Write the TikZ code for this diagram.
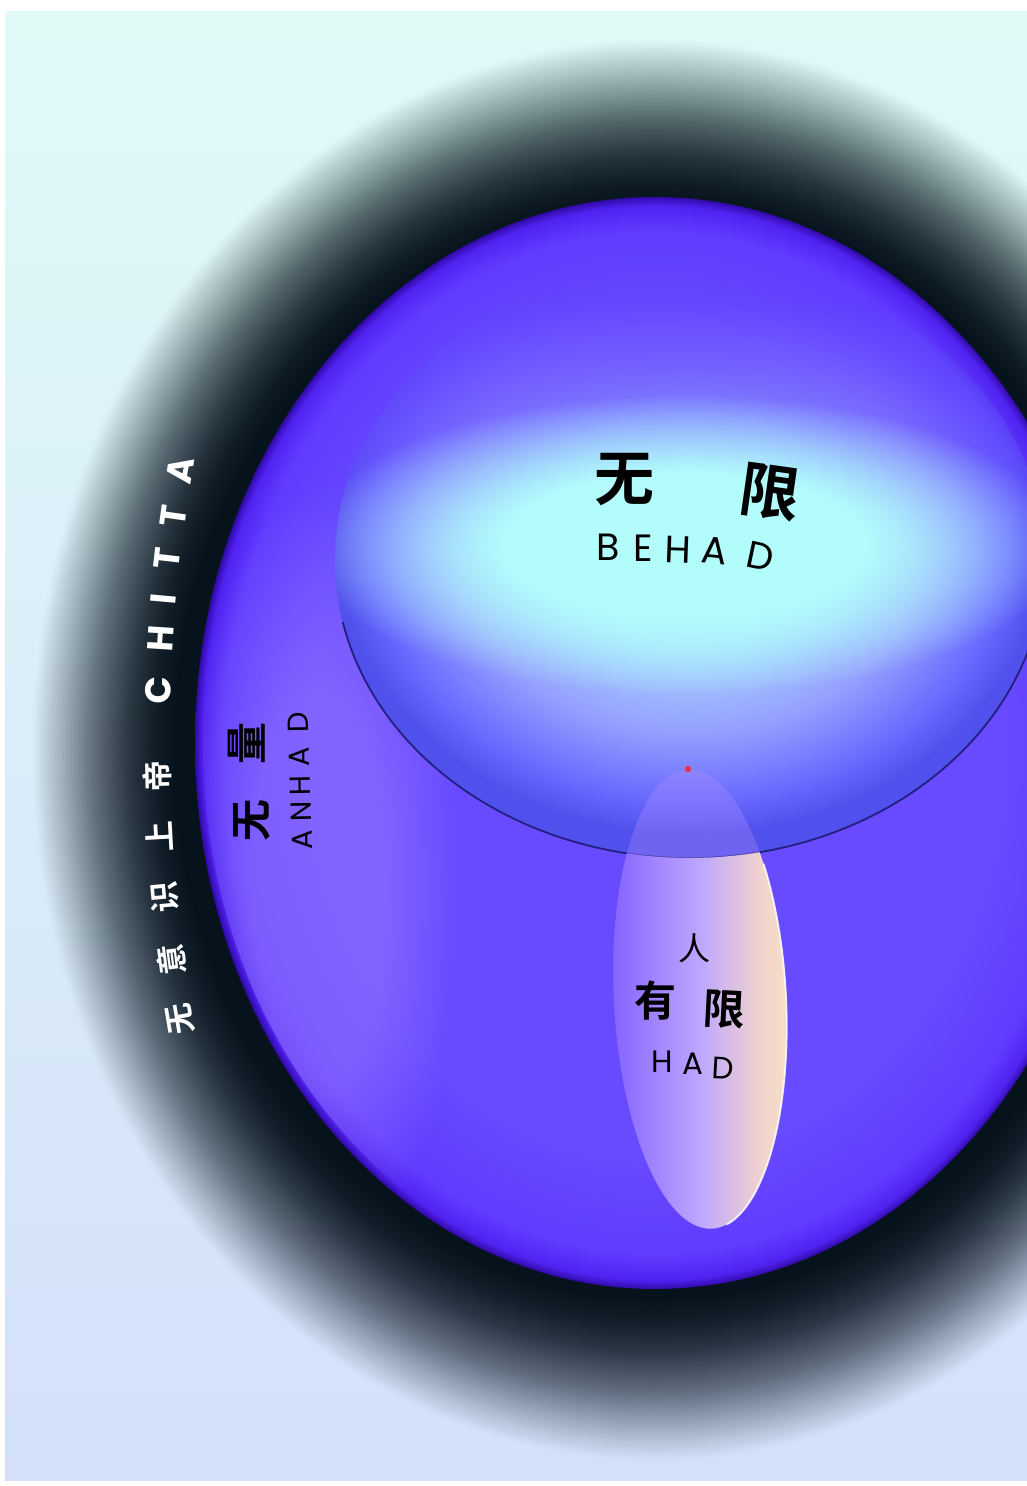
\documentclass[tikz,border=0pt]{standalone}
\usepackage{fontspec}
\newfontfamily\cjk{Noto Sans CJK SC}
\newfontfamily\cjkbold{Noto Sans CJK SC Bold}
\newfontfamily\gothic{Poppins}
\usetikzlibrary{fadings}

% colours
\definecolor{skytop}{RGB}{224,250,248}
\definecolor{skybot}{RGB}{212,224,250}
\definecolor{voidblack}{RGB}{6,18,28}
\definecolor{anhadmid}{RGB}{104,74,255}
\definecolor{anhadrim}{RGB}{96,60,255}
\definecolor{anhaddeep}{RGB}{80,34,240}
\definecolor{anhadedge}{RGB}{50,10,170}
\definecolor{anhadsoft}{RGB}{150,120,255}
\definecolor{behadcore}{RGB}{170,226,255}
\definecolor{behadmid}{RGB}{150,160,255}
\definecolor{behadrim}{RGB}{104,104,255}
\definecolor{behadedge}{RGB}{80,80,236}
\definecolor{behadglow}{RGB}{178,252,252}
\definecolor{behadline}{RGB}{34,30,130}
\definecolor{hadleft}{RGB}{134,102,255}
\definecolor{hadmid}{RGB}{190,166,255}
\definecolor{hadright}{RGB}{240,210,206}
\definecolor{hadcream}{RGB}{250,226,196}
\definecolor{hadveil}{RGB}{170,140,255}
\definecolor{seed}{RGB}{230,48,72}

% shadings (25bp is the rim of the shaded path)
\pgfdeclareradialshading{anhadshade}{\pgfpointorigin}{color(0bp)=(anhadmid); color(19bp)=(anhadmid); color(23.4bp)=(anhadrim); color(24.6bp)=(anhaddeep); color(25bp)=(anhadedge); color(50bp)=(anhadedge)}
\pgfdeclareradialshading{behadshade}{\pgfpoint{0bp}{4bp}}{color(0bp)=(behadcore); color(9bp)=(behadcore); color(17bp)=(behadmid); color(22.5bp)=(behadrim); color(25bp)=(behadedge); color(50bp)=(behadedge)}
\pgfdeclarehorizontalshading{hadshade}{100bp}{color(0bp)=(hadleft); color(27bp)=(hadleft); color(50bp)=(hadmid); color(66bp)=(hadright); color(75bp)=(hadcream); color(100bp)=(hadcream)}

% fadings
\pgfdeclareradialshading{softfadeshade}{\pgfpointorigin}{color(0bp)=(white); color(12bp)=(white); color(25bp)=(black); color(50bp)=(black)}
\pgfdeclarefading{softfade}{\pgfuseshading{softfadeshade}}
\pgfdeclareverticalshading{capfadeshade}{100bp}{color(0bp)=(white); color(45bp)=(white); color(72bp)=(black); color(100bp)=(black)}
\pgfdeclarefading{capfade}{\pgfuseshading{capfadeshade}}

% darkness of the void at depth s (0 outside, 1 at the rim of ANHAD)
\newcommand*{\voiddepth}[2]{\pgfmathsetmacro#1{0.985*(1-(max(0.001,1-(#2+0.0001)^1.2))^1.8)}}

\begin{document}
\begin{tikzpicture}[x=1pt,y=1pt,
  bigcjk/.style={font=\cjkbold\fontsize{60}{60}\selectfont, inner sep=0pt},
  midcjk/.style={font=\cjkbold\fontsize{42}{42}\selectfont, inner sep=0pt},
  smallcjk/.style={font=\cjk\fontsize{32}{32}\selectfont, inner sep=0pt},
  behadletter/.style={font=\gothic\fontsize{38}{38}\selectfont, inner sep=0pt},
  hadletter/.style={font=\gothic\fontsize{31}{31}\selectfont, inner sep=0pt},
  anhadletter/.style={font=\gothic\fontsize{29}{29}\selectfont, inner sep=0pt, rotate=91},
  chittacjk/.style={font=\cjkbold\fontsize{31}{31}\selectfont, text=white, inner sep=0pt},
  chittaletter/.style={font=\gothic\bfseries\fontsize{36}{36}\selectfont, text=white, inner sep=0pt}]
  \useasboundingbox (0,0) rectangle (1027,1486);
  \coordinate (voidctr) at (655,736);
  \coordinate (anhadctr) at (655,743);
  \coordinate (capctr) at (690,926);
  \coordinate (hadctr) at (700,487);

  % paper and sky
  \fill[white] (0,0) rectangle (1027,1486);
  \shade[top color=skytop, bottom color=skybot] (5,5) rectangle (1027,1474);

  \begin{scope}
    \clip (5,5) rectangle (1027,1474);
    % dark void round the whole: thin veils stacked inwards
    \foreach \i in {1,...,80}{
      \voiddepth\opnow{\i/80}
      \voiddepth\opwas{(\i-1)/80}
      \pgfmathsetmacro\veil{1-(1-\opnow)/(1-\opwas)}
      \pgfmathsetmacro\rr{1-0.25*\i/80}
      \fill[voidblack, fill opacity=\veil] (voidctr) ellipse[x radius=625*\rr, y radius=713*\rr];
    }
    % ANHAD
    \shade[shading=anhadshade] (anhadctr) ellipse[x radius=460, y radius=546];
    \begin{scope}
      \clip (anhadctr) ellipse[x radius=452, y radius=538];
      \fill[anhadsoft, opacity=.55, path fading=softfade] (320,600) ellipse[x radius=140, y radius=400];
    \end{scope}

    % BEHAD cap
    \shade[shading=behadshade, path fading=capfade] (capctr) ellipse[x radius=355, y radius=298];
    \begin{scope}
      \clip (capctr) ellipse[x radius=355, y radius=298];
      \fill[behadglow, path fading=softfade] (685,941) ellipse[x radius=380, y radius=150];
    \end{scope}
    \draw[behadline, line width=1.8] (capctr) ++(192:355 and 298) arc[start angle=192, end angle=352, x radius=355, y radius=298];

    % HAD
    \fill[hadveil, opacity=.35, shift={(hadctr)}, rotate=3] (0,0) ellipse[x radius=86, y radius=230];
    \begin{scope}
      \clip (capctr) ++(180:355 and 298) arc[start angle=180, end angle=360, x radius=355, y radius=298] -- (1045,200) -- (335,200) -- cycle;
      \shade[shading=hadshade, shift={(hadctr)}, rotate=3] (0,0) ellipse[x radius=86, y radius=230];
      \draw[white, line width=1.8, opacity=.85, shift={(hadctr)}, rotate=3] (35:86 and 230) arc[start angle=35, end angle=-80, x radius=86, y radius=230];
    \end{scope}
    \fill[seed] (688,717) circle[radius=3.2];
  \end{scope}

  % BEHAD label
  \node[bigcjk] (wu) at (624,1006) {无};
  \node[bigcjk, rotate=-8] (xian) at (770,994) {限};
  \foreach \ch/\x/\y/\r [count=\i] in {B/608/939/0, E/643/938/0, H/678/936/-2, A/715/935/-6, D/760/930/-12}
    \node[behadletter, rotate=\r] (behad-\i) at (\x,\y) {\ch};

  % HAD label
  \node[smallcjk] (ren) at (694,538) {人};
  \node[midcjk] (you) at (655,485) {有};
  \node[midcjk, rotate=-3] (hadxian) at (724,477) {限};
  \foreach \ch/\x/\y/\r [count=\i] in {H/662/424/0, A/693/422/0, D/723/418/-3}
    \node[hadletter, rotate=\r] (had-\i) at (\x,\y) {\ch};

  % ANHAD label
  \node[midcjk, rotate=90] (anwu) at (252,665) {无};
  \node[midcjk, rotate=90] (liang) at (247,742) {量};
  \foreach \ch/\x/\y [count=\i] in {A/302/646, N/301/675, H/300/700, A/299/729, D/298/764}
    \node[anhadletter] (anhad-\i) at (\x,\y) {\ch};

  % CHITTA along the rim
  \foreach \ch/\ang [count=\i] in {无/189.6, 意/187.5, 识/185.3, 上/183.2, 帝/181.1}
    \node[chittacjk, rotate=\ang-90] (chitta-\i) at ({1802+1645*cos(\ang)},{741+1645*sin(\ang)}) {\ch};
  \foreach \ch/\ang [count=\i from 6] in {C/178.1, H/176.3, I/174.9, T/173.5, T/172.0, A/170.4}
    \node[chittaletter, rotate=\ang-90] (chitta-\i) at ({1802+1645*cos(\ang)},{741+1645*sin(\ang)}) {\ch};
\end{tikzpicture}
\end{document}
